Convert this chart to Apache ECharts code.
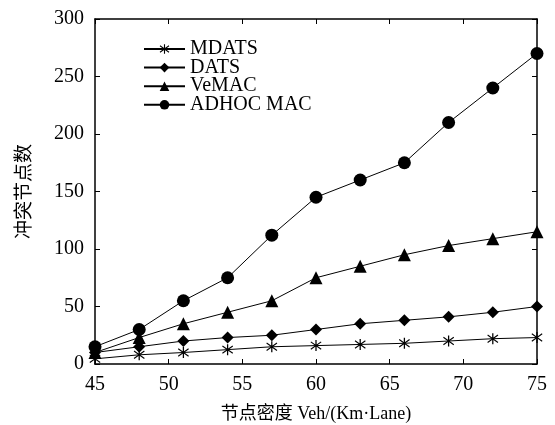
<!DOCTYPE html>
<html><head><meta charset="utf-8">
<script src="https://cdn.jsdelivr.net/npm/echarts@6/dist/echarts.min.js"></script>
<style>html,body{margin:0;padding:0;background:#fff}#c{width:555px;height:425px}</style>
</head><body><div id="c"></div>
<script>
const xValues = [45, 48, 51, 54, 57, 60, 63, 66, 69, 72, 75];
const mdats = [4.5, 8, 10, 12.5, 15, 16, 17, 18, 20, 22, 23];
const dats = [10, 15, 20, 23, 25, 30, 35, 38, 41, 45, 50];
const vemac = [10, 23, 35, 45, 55, 75, 85, 95, 103, 109, 115];
const adhoc = [15, 30, 55, 75, 112, 145, 160, 175, 210, 240, 270];
const seriesNames = ['MDATS', 'DATS', 'VeMAC', 'ADHOC MAC'];
const xName = '节点密度 Veh/(Km·Lane)';
const yName = '冲突节点数';

const star = 'path://M9,0 L11,0 L11,20 L9,20 Z M1.34,4.134 L2.34,2.402 L18.66,15.866 L17.66,17.598 Z M1.34,15.866 L17.66,2.402 L18.66,4.134 L2.34,17.598 Z';
const font = '"Liberation Serif", "Times New Roman", serif';
const mixed = '"Liberation Serif", "Noto Sans CJK SC", serif';

function pairs(arr) { return xValues.map((x, i) => [x, arr[i]]); }
function mk(name, data, symbol, size) {
  return {
    name, type: 'line', data: pairs(data), symbol, symbolSize: size,
    xAxisIndex: 0, yAxisIndex: 0,
    lineStyle: { color: '#000', width: 1 },
    itemStyle: { color: '#000', borderWidth: 0 },
    emphasis: { disabled: true }, animation: false
  };
}
const axisCommon = {
  axisLine: { show: true, onZero: false, lineStyle: { color: '#000', width: 1.5 } },
  axisTick: { show: true, inside: true, length: 5, lineStyle: { color: '#000' } },
  splitLine: { show: false }
};
const chart = echarts.init(document.getElementById('c'));
chart.setOption({
  backgroundColor: '#fff',
  animation: false,
  grid: { left: 95, right: 18, top: 19, bottom: 61, containLabel: false, outerBoundsMode: 'none' },
  legend: {
    orient: 'vertical', left: 143, top: 39, itemWidth: 41, itemHeight: 12, itemGap: -1.4, padding: 0,
    data: seriesNames,
    textStyle: { fontFamily: font, fontSize: 20, lineHeight: 18.5, color: '#000', padding: [0, 0, 0, 0] }
  },
  xAxis: [
    Object.assign({ type: 'value', min: 45, max: 75, interval: 5, position: 'bottom',
      name: xName, nameLocation: 'middle', nameGap: 41,
      nameTextStyle: { fontFamily: mixed, fontSize: 18, color: '#000' },
      axisLabel: { fontFamily: font, fontSize: 20, color: '#000', margin: 11 } }, axisCommon),
    Object.assign({ type: 'value', min: 45, max: 75, interval: 5, position: 'top',
      axisLabel: { show: false } }, axisCommon)
  ],
  yAxis: [
    Object.assign({ type: 'value', min: 0, max: 300, interval: 50, position: 'left',
      name: yName, nameLocation: 'middle', nameGap: 60, nameRotate: 90,
      nameTextStyle: { fontFamily: mixed, fontSize: 19, color: '#000' },
      axisLabel: { fontFamily: font, fontSize: 20, color: '#000', margin: 11 } }, axisCommon),
    Object.assign({ type: 'value', min: 0, max: 300, interval: 50, position: 'right',
      axisLabel: { show: false } }, axisCommon)
  ],
  series: [
    mk('MDATS', mdats, star, 11),
    mk('DATS', dats, 'diamond', 12),
    mk('VeMAC', vemac, 'triangle', 13),
    mk('ADHOC MAC', adhoc, 'circle', 13)
  ]
});
</script></body></html>
